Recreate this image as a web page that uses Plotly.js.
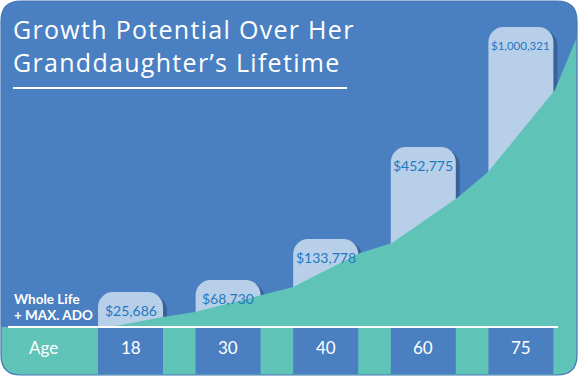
<!DOCTYPE html>
<html><head><meta charset="utf-8">
<script src="https://cdn.plot.ly/plotly-3.0.1.min.js"></script>
<style>html,body{margin:0;padding:0;background:#fff;}#chart{width:580px;height:378px;}
g.annotation[data-index="0"] text{letter-spacing:1.3px;}</style>
</head><body><div id="chart"></div>
<script>
// ---- data ----
const titleLines = ['Growth Potential Over Her', 'Granddaughter\u2019s Lifetime'];
const seriesLabel = ['Whole Life', '+ MAX. ADO'];
const rowLabel = 'Age';
const ages = ['18', '30', '40', '60', '75'];
const cashValueLabels = ['$25,686', '$68,730', '$133,778', '$452,775', '$1,000,321'];
// bar heights as drawn in the graphic (illustrative, not proportional to the dollar values)
const barHeights = [35, 47, 88, 180, 300];
// background growth curve (category-index units, same value scale as the bars)
const growthCurveX = [-0.21, 0.333, 0.661, 1.327, 1.665, 2.351, 2.679, 3.345, 3.663, 4.349, 4.574];
const growthCurveY = [0, 10, 15, 32, 40, 74, 84, 129, 155, 237, 290];

// ---- geometry / styles ----
const W = 580, H = 378;
const C0 = 130.5, PITCH = 97.6, BASE = 327;
const BLUE = '#4a7fc1', TEAL = '#5fc3b8', BAR = '#b8cfe9', LABEL = '#1f78c1';
const FONT = 'Lato, "Open Sans", sans-serif';
const TFONT = '"Open Sans", Lato, sans-serif';
const BW = 65 / PITCH;
const idx = ages.map((_, i) => i);
const px = p => p / W;            // pixel -> paper x
const py = p => 1 - p / H;        // pixel -> paper y

function rr(x0, y0, x1, y1, rt, rb) {
  const f = (x, y) => px(x) + ',' + py(y);
  return 'M' + f(x0 + rt, y0) + ' L' + f(x1 - rt, y0) + ' Q' + f(x1, y0) + ' ' + f(x1, y0 + rt) +
    ' L' + f(x1, y1 - rb) + ' Q' + f(x1, y1) + ' ' + f(x1 - rb, y1) +
    ' L' + f(x0 + rb, y1) + ' Q' + f(x0, y1) + ' ' + f(x0, y1 - rb) +
    ' L' + f(x0, y0 + rt) + ' Q' + f(x0, y0) + ' ' + f(x0 + rt, y0) + ' Z';
}

const traces = [
  { type: 'scatter', mode: 'lines', x: growthCurveX, y: growthCurveY, fill: 'tozeroy',
    fillcolor: TEAL, line: { width: 0, shape: 'linear', color: TEAL }, hoverinfo: 'skip', showlegend: false },
  { type: 'bar', x: idx, y: barHeights.map(v => v - 3), width: BW, offset: -BW / 2 + 4 / PITCH,
    marker: { color: 'rgba(25,45,80,0.35)', cornerradius: 15, line: { width: 0 } }, hoverinfo: 'skip', showlegend: false },
  { type: 'bar', x: idx, y: barHeights, width: BW, offset: -BW / 2,
    marker: { color: BAR, cornerradius: 15, line: { width: 0 } }, hoverinfo: 'skip', showlegend: false }
];

const shapes = [
  { type: 'path', xref: 'paper', yref: 'paper', path: rr(1, 1, 577, 375, 20, 20), fillcolor: BLUE, line: { width: 0 }, layer: 'below' },
  { type: 'path', xref: 'paper', yref: 'paper', path: rr(1, BASE, 577, 375, 0, 20), fillcolor: TEAL, line: { width: 0 }, layer: 'below' },
  { type: 'path', xref: 'paper', yref: 'paper', path: rr(1, 1, 577, 375, 20, 20), fillcolor: 'rgba(0,0,0,0)', line: { width: 1.2, color: '#4576b6' }, layer: 'above' },
  { type: 'line', xref: 'paper', yref: 'paper', x0: px(8), x1: px(558), y0: py(BASE), y1: py(BASE), line: { color: '#ffffff', width: 2 }, layer: 'above' },
  { type: 'line', xref: 'paper', yref: 'paper', x0: px(13), x1: px(347), y0: py(88), y1: py(88), line: { color: '#ffffff', width: 2 }, layer: 'above' }
];
idx.forEach(i => shapes.push({ type: 'rect', xref: 'x', yref: 'paper', x0: i - BW / 2, x1: i + BW / 2,
  y0: py(374), y1: py(BASE + 1), fillcolor: BLUE, line: { width: 0 }, layer: 'below' }));

const ann = [];
ann.push({ text: titleLines.join('<br>'), xref: 'paper', yref: 'paper', x: px(11), y: py(45),
  xanchor: 'left', yanchor: 'middle', align: 'left', showarrow: false,
  font: { family: TFONT, size: 25, color: '#ffffff' } });
seriesLabel.forEach((t, k) => ann.push({ text: t, xref: 'paper', yref: 'paper', x: px(12), y: py(299 + 16 * k),
  xanchor: 'left', yanchor: 'middle', showarrow: false, font: { family: FONT, size: 13.5, color: '#ffffff', weight: 'bold' } }));
ann.push({ text: rowLabel, xref: 'paper', yref: 'paper', x: px(43.5), y: py(347), xanchor: 'center', yanchor: 'middle',
  showarrow: false, font: { family: FONT, size: 17, color: '#ffffff' } });
ages.forEach((a, i) => ann.push({ text: a, xref: 'x', yref: 'paper', x: i, y: py(347), xanchor: 'center', yanchor: 'middle',
  showarrow: false, font: { family: FONT, size: 17, color: '#ffffff' } }));
cashValueLabels.forEach((t, i) => ann.push({ text: t, xref: 'x', yref: 'y', x: i, y: barHeights[i], yshift: -18,
  xanchor: 'center', yanchor: 'middle', showarrow: false,
  font: { family: FONT, size: t.length > 8 ? 11.5 : 14, color: LABEL } }));

const layout = {
  width: W, height: H, margin: { l: 0, r: 0, t: 0, b: 0, pad: 0 },
  paper_bgcolor: '#ffffff', plot_bgcolor: 'rgba(0,0,0,0)',
  barmode: 'overlay', showlegend: false,
  xaxis: { range: [(0 - C0) / PITCH, (W - C0) / PITCH], visible: false, fixedrange: true },
  yaxis: { range: [-(H - BASE), BASE], visible: false, fixedrange: true },
  shapes: shapes, annotations: ann
};
Plotly.newPlot('chart', traces, layout, { displayModeBar: false, staticPlot: true });
</script>
</body></html>
